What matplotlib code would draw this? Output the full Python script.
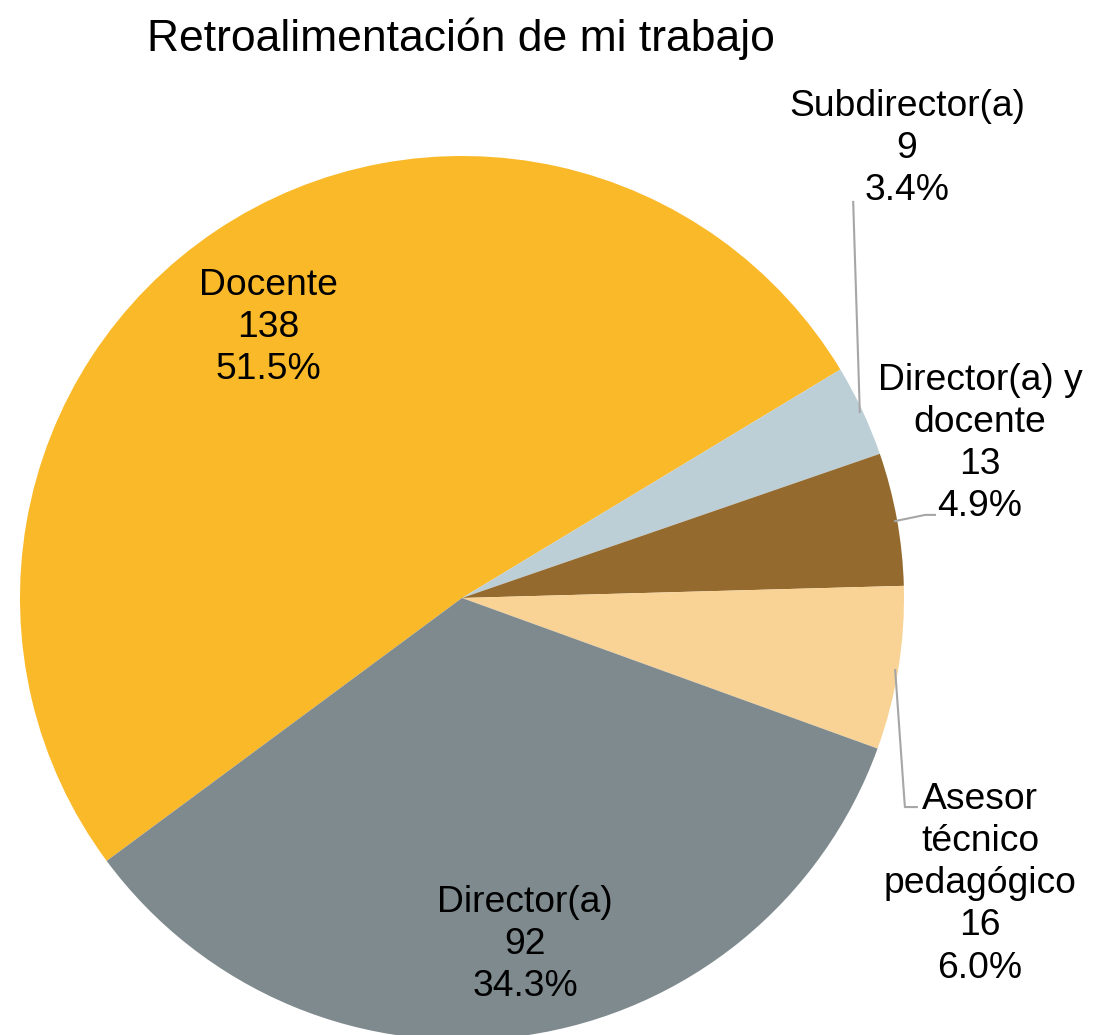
import matplotlib.pyplot as plt

plt.rcParams['font.family'] = ['Liberation Sans', 'DejaVu Sans']

# counts per role, in clockwise order starting from the left side
roles = ['Docente', 'Subdirector(a)', 'Director(a) y\ndocente',
         'Asesor\ntécnico\npedagógico', 'Director(a)']
counts = [138, 9, 13, 16, 92]
colors = ['#FAB928', '#BDCFD6', '#956A2E', '#F9D396', '#7F8A8F']

# where each label block sits (pie radius = 1)
label_pos = [(-0.439, 0.611), (1.007, 1.018), (1.172, 0.349),
             (1.172, -0.647), (0.143, -0.784)]
# leader lines for the labels placed outside the pie
leaders = {
    1: [(0.885, 0.896), (0.900, 0.421)],
    2: [(0.980, 0.174), (1.048, 0.188), (1.070, 0.188)],
    3: [(0.980, -0.163), (1.002, -0.473), (1.029, -0.473)],
}

total = sum(counts)

fig = plt.figure(figsize=(10.95, 10.35), dpi=100)
ax = fig.add_axes([0, 0, 1, 1])
ax.pie(counts, colors=colors, startangle=216.5, counterclock=False,
       wedgeprops=dict(linewidth=0))
ax.set_xlim(-1.0452, 1.4321)
ax.set_ylim(-0.9887, 1.3529)
ax.set_aspect('auto')
ax.axis('off')

for i, (role, n) in enumerate(zip(roles, counts)):
    pct = 100.0 * n / total
    x, y = label_pos[i]
    ax.text(x, y, f'{role}\n{n}\n{pct:.1f}%', ha='center', va='center',
            fontsize=26.8, linespacing=1.26, color='black')
    if i in leaders:
        xs, ys = zip(*leaders[i])
        ax.plot(xs, ys, color='#A6A6A6', lw=1.5)

fig.text(0.421, 0.963, 'Retroalimentación de mi trabajo', ha='center',
         va='center', fontsize=32)

fig.savefig('out.png', dpi=100)
